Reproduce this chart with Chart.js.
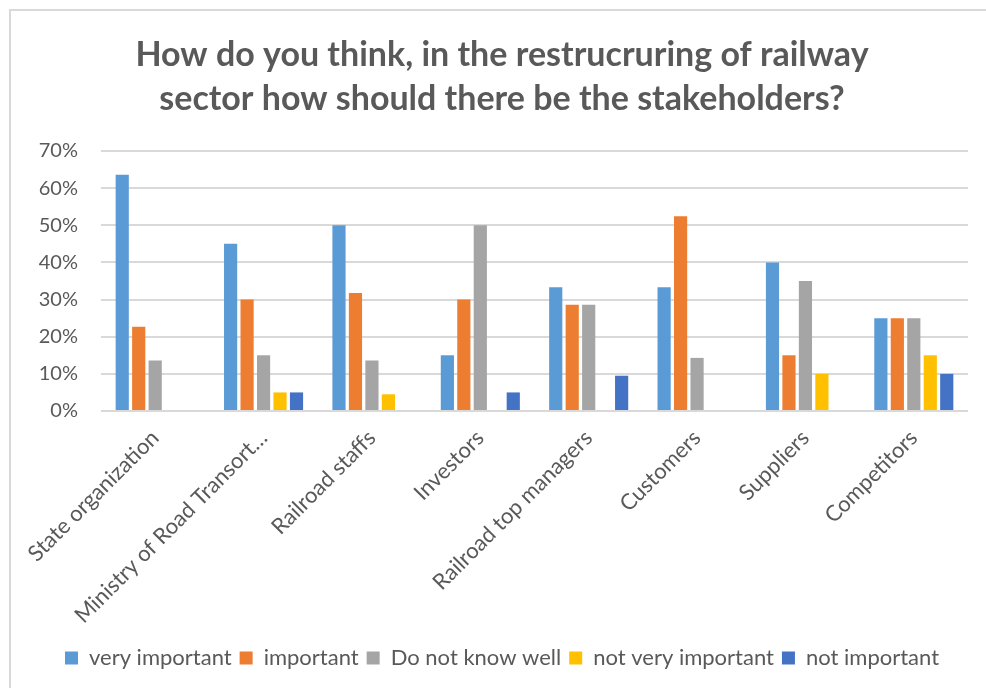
<!DOCTYPE html>
<html lang="en">

<head>
    <meta charset="UTF-8">
    <meta name="viewport" content="width=device-width, initial-scale=1">
    <title>Railway sector stakeholders</title>
    <script src="https://cdn.jsdelivr.net/npm/chart.js@4.4.0/dist/chart.umd.min.js"></script>
    <style>
        body { margin: 0; background: #fff; overflow: hidden; }
        #frame {
            position: absolute; left: 9px; top: 9px;
            width: 1100px; height: 800px;
            border: 2px solid #d9d9d9;
        }
        #chart { position: absolute; left: 0; top: 0; }
    </style>
</head>

<body>
    <div id="frame"></div>
    <canvas id="chart" width="986" height="688"></canvas>
    <script>

        // Survey answers, share of respondents per stakeholder group (%)
        const stakeholders = ["State organization", "Ministry of Road Transort\u2026", "Railroad staffs", "Investors",
            "Railroad top managers", "Customers", "Suppliers", "Competitors"];

        const veryImportant    = [63.6, 45, 50,   15, 33.3, 33.3, 40, 25];
        const important        = [22.7, 30, 31.8, 30, 28.6, 52.4, 15, 25];
        const doNotKnowWell    = [13.6, 15, 13.6, 50, 28.6, 14.3, 35, 25];
        const notVeryImportant = [0,    5,  4.5,  0,  0,    0,    10, 15];
        const notImportant     = [0,    5,  0,    5,  9.5,  0,    0,  10];

        const yTicks = [0, 10, 20, 30, 40, 50, 60, 70];

        const grey = "#595959";

        function series(label, data, color) {
            return { label, data, backgroundColor: color, borderWidth: 0 };
        }

        const ctx = document.getElementById("chart").getContext("2d");
        const myChart = new Chart(ctx, {
            type: "bar",
            data: {
                labels: stakeholders,
                datasets: [
                    series("very important", veryImportant, "#5b9bd5"),
                    series("important", important, "#ed7d31"),
                    series("Do not know well", doNotKnowWell, "#a5a5a5"),
                    series("not very important", notVeryImportant, "#ffc000"),
                    series("not important", notImportant, "#4472c4")
                ]
            },
            options: {
                responsive: false,
                animation: false,
                categoryPercentage: 0.76,
                barPercentage: 0.8,
                layout: { padding: { left: 36, right: 18, top: 0, bottom: 9 } },
                plugins: {
                    title: {
                        display: true,
                        text: ["How do you think, in the restrucruring of railway",
                            "sector how should there be the stakeholders?"],
                        color: grey,
                        font: { family: "Lato", size: 34, weight: "bold", lineHeight: 44 / 34 },
                        padding: { top: 33, bottom: 30 }
                    },
                    legend: {
                        position: "bottom",
                        labels: {
                            color: grey,
                            font: { family: "Lato", size: 22 },
                            boxWidth: 13,
                            boxHeight: 13,
                            padding: 8
                        }
                    },
                    tooltip: { enabled: false }
                },
                scales: {
                    x: {
                        grid: { display: false },
                        border: { display: false },
                        ticks: {
                            color: grey,
                            font: { family: "Lato", size: 22 },
                            minRotation: 45,
                            maxRotation: 45,
                            autoSkip: false,
                            padding: 6
                        },
                        afterFit(scale) {
                            // rotated labels may hang past the plot edge; keep the plot width fixed
                            scale.height = 228;
                            scale.paddingLeft = 0;
                            scale.paddingRight = 0;
                        }
                    },
                    y: {
                        min: 0,
                        max: 70,
                        afterBuildTicks(scale) { scale.ticks = yTicks.map(v => ({ value: v })); },
                        grid: { color: "#d9d9d9", lineWidth: 2, drawTicks: false },
                        border: { display: false },
                        ticks: {
                            color: grey,
                            font: { family: "Lato", size: 20 },
                            padding: 23,
                            callback: v => v + "%"
                        },
                        afterFit(scale) { scale.width = 65; }
                    }
                }
            }
        });

    </script>
</body>

</html>
